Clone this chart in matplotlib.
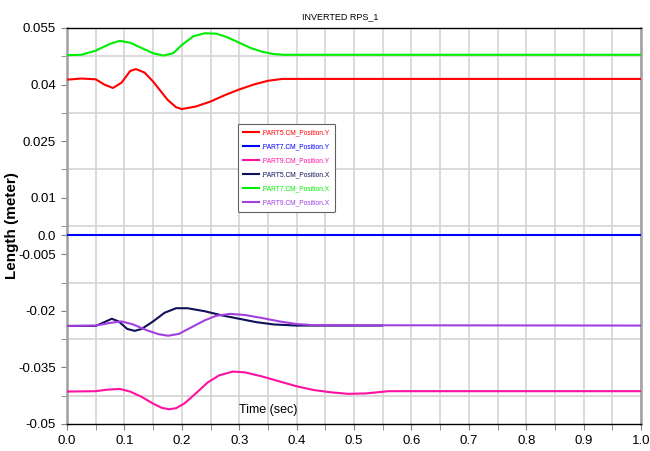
import numpy as np
import matplotlib
matplotlib.use("Agg")
import matplotlib.pyplot as plt

# time (sec) / value (meter) pairs
t_p5y = [0.0, 0.025, 0.05, 0.065, 0.08, 0.095, 0.11, 0.12, 0.135, 0.15, 0.175, 0.19, 0.2,
         0.225, 0.25, 0.275, 0.3, 0.325, 0.35, 0.375, 1.0]
p5y = [0.0413, 0.0416, 0.0414, 0.0400, 0.0391, 0.0405, 0.0436, 0.0441, 0.0432, 0.0408, 0.0360,
       0.0340, 0.0335, 0.0342, 0.0355, 0.0372, 0.0387, 0.0400, 0.0410, 0.0415, 0.0415]

t_p7y = [0.0, 1.0]
p7y = [0.0, 0.0]

t_p9y = [0.0, 0.05, 0.07, 0.092, 0.11, 0.13, 0.15, 0.165, 0.178, 0.19, 0.205, 0.225, 0.245,
         0.265, 0.289, 0.31, 0.34, 0.37, 0.4, 0.43, 0.46, 0.49, 0.52, 0.56, 1.0]
p9y = [-0.0414, -0.0413, -0.0409, -0.0407, -0.0414, -0.0428, -0.0446, -0.0457, -0.0461, -0.0458,
       -0.0445, -0.0418, -0.0390, -0.0371, -0.0361, -0.0363, -0.0374, -0.0387, -0.0400, -0.0410,
       -0.0416, -0.0420, -0.0419, -0.0413, -0.0413]

t_p5x = [0.0, 0.05, 0.065, 0.078, 0.09, 0.105, 0.118, 0.13, 0.15, 0.17, 0.19, 0.21, 0.24,
         0.27, 0.3, 0.33, 0.36, 0.4, 0.549]
p5x = [-0.0240, -0.0240, -0.0230, -0.0221, -0.0228, -0.0248, -0.0253, -0.0248, -0.0228, -0.0205,
       -0.0193, -0.0193, -0.0201, -0.0212, -0.0221, -0.0230, -0.0236, -0.0239, -0.0239]

t_p7x = [0.0, 0.025, 0.05, 0.075, 0.092, 0.11, 0.13, 0.15, 0.168, 0.185, 0.2, 0.22, 0.24, 0.26,
         0.28, 0.3, 0.32, 0.34, 0.36, 0.376, 1.0]
p7x = [0.0478, 0.0479, 0.0490, 0.0508, 0.0516, 0.0511, 0.0497, 0.0483, 0.0477, 0.0483, 0.0505,
       0.0528, 0.0536, 0.0535, 0.0525, 0.0511, 0.0497, 0.0487, 0.0481, 0.0479, 0.0479]

t_p9x = [0.0, 0.05, 0.075, 0.095, 0.115, 0.14, 0.16, 0.176, 0.195, 0.215, 0.24, 0.26, 0.284,
         0.31, 0.34, 0.37, 0.4, 0.43, 1.0]
p9x = [-0.0240, -0.0239, -0.0232, -0.0228, -0.0236, -0.0252, -0.0262, -0.0266, -0.0261, -0.0245,
       -0.0225, -0.0213, -0.0208, -0.0211, -0.0219, -0.0228, -0.0235, -0.0238, -0.0239]

series = [
    (".PART5.CM_Position.Y", t_p5y, p5y, "#ff0000"),
    (".PART7.CM_Position.Y", t_p7y, p7y, "#0000ff"),
    (".PART9.CM_Position.Y", t_p9y, p9y, "#ff10a0"),
    (".PART5.CM_Position.X", t_p5x, p5x, "#10105a"),
    (".PART7.CM_Position.X", t_p7x, p7x, "#00ee00"),
    (".PART9.CM_Position.X", t_p9x, p9x, "#a040e0"),
]

y_ticks = [-0.05, -0.035, -0.02, -0.005, 0.0, 0.01, 0.025, 0.04, 0.055]
y_labels = ["-0.05", "-0.035", "-0.02", "-0.005", "0.0", "0.01", "0.025", "0.04", "0.055"]
x_ticks = [round(0.1 * i, 1) for i in range(11)]

FONT = ["Liberation Sans", "DejaVu Sans"]

fig = plt.figure(figsize=(6.5, 4.51), dpi=100)
ax = fig.add_axes([67 / 650, 27 / 451, 574 / 650, 396 / 451])

for label, t, v, color in series:
    ax.plot(t, v, color=color, linewidth=1.5, label=label, zorder=3)

ax.set_xlim(0, 1.0)
ax.set_ylim(-0.05, 0.055)

ax.set_xticks(x_ticks)
ax.set_xticklabels([f"{x:.1f}" for x in x_ticks], family=FONT, fontsize=9.5)
ax.set_xticks(np.arange(0.05, 1.0, 0.1), minor=True)
ax.set_yticks(y_ticks)
ax.set_yticklabels(y_labels, family=FONT, fontsize=9.5)
ax.set_yticks(np.arange(-0.05, 0.0551, 0.0075), minor=True)

ax.grid(which="minor", color="#d4d4d4", linewidth=1.2, zorder=0)
ax.grid(which="major", axis="x", color="#d4d4d4", linewidth=1.2, zorder=0)
ax.tick_params(which="both", direction="out", length=4, color="#808080", pad=4)

for side in ("left", "right"):
    ax.spines[side].set_color("#a0a0a0")
    ax.spines[side].set_linewidth(1.8)
for side in ("top", "bottom"):
    ax.spines[side].set_color("black")
    ax.spines[side].set_linewidth(1.0)

ax.set_ylabel("Length (meter)", fontweight="bold", fontsize=11, family=FONT)
ax.yaxis.set_label_coords(-0.083, 0.5)
ax.text(0.35, 0.035, "Time (sec)", transform=ax.transAxes, ha="center", va="center",
        fontsize=9, family=FONT)
fig.text(340 / 650, 1 - 17 / 451, "INVERTED RPS_1", ha="center", va="center",
         fontsize=6.5, family=FONT)

leg = ax.legend(loc="upper left", bbox_to_anchor=((238 - 67) / 574, (424 - 124) / 396),
                borderaxespad=0, prop={"family": FONT, "size": 4.8}, handlelength=2.4,
                handletextpad=0.3, labelspacing=1.05, borderpad=0.8, fancybox=True,
                framealpha=1)
leg.get_frame().set_edgecolor("#606060")
leg.get_frame().set_linewidth(0.8)
for text, (_, _, _, color) in zip(leg.get_texts(), series):
    text.set_color(color)

fig.savefig("out.png", dpi=100)
